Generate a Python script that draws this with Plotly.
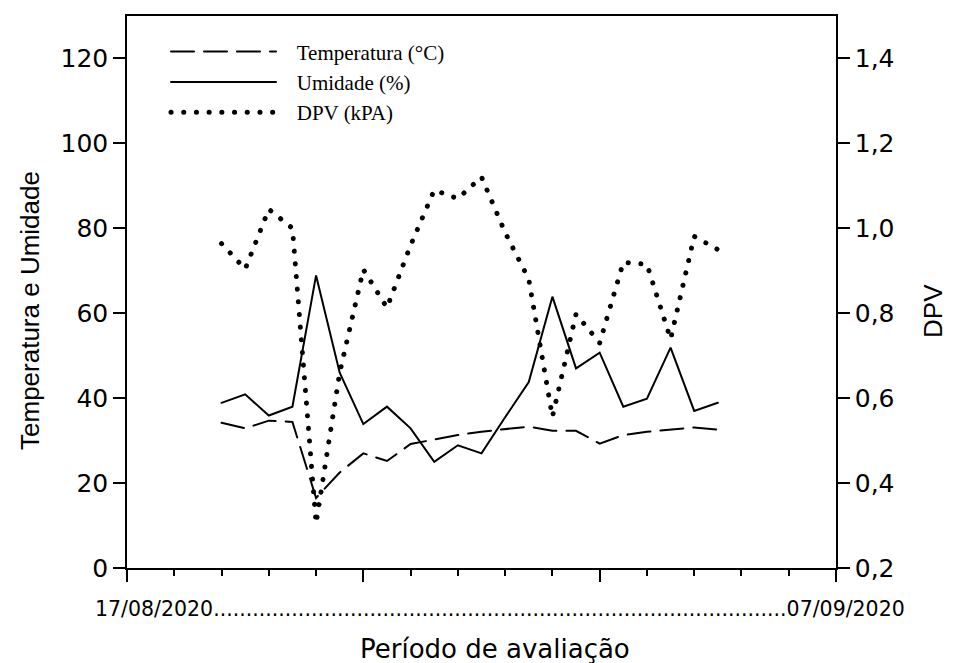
import plotly.graph_objects as go
import pandas as pd

dates = pd.date_range("2020-08-17", "2020-09-07", freq="D").strftime("%Y-%m-%d").tolist()
temperatura = [34.2, 32.9, 34.7, 34.4, 16.5, 22.5, 27.0, 25.2, 29.2, 30.2, 31.3,
               32.1, 32.7, 33.3, 32.3, 32.3, 29.3, 31.3, 32.1, 32.6, 33.1, 32.6]
umidade = [38.9, 40.9, 35.9, 38.0, 68.9, 46.0, 33.9, 38.0, 32.9, 25.0, 28.9,
           27.0, 35.5, 43.8, 63.9, 47.0, 50.7, 38.0, 39.9, 51.9, 37.0, 38.9]
dpv = [0.964, 0.904, 1.045, 1.000, 0.305, 0.660, 0.903, 0.813, 0.960, 1.090, 1.070,
       1.121, 0.990, 0.880, 0.556, 0.798, 0.730, 0.920, 0.915, 0.739, 0.981, 0.950]

left_ticks = [0, 20, 40, 60, 80, 100, 120]
right_ticks = [0.2, 0.4, 0.6, 0.8, 1.0, 1.2, 1.4]
date_label = "17/08/2020" + "." * 88 + "07/09/2020"
nb = "\u00a0" * 3

fig = go.Figure()
fig.add_trace(go.Scatter(x=dates, y=temperatura, mode="lines", name=nb + "Temperatura (°C)",
                         line=dict(color="black", width=2, dash="23px,10px")))
fig.add_trace(go.Scatter(x=dates, y=umidade, mode="lines", name=nb + "Umidade (%)",
                         line=dict(color="black", width=2)))
fig.add_trace(go.Scatter(x=dates, y=dpv, mode="lines", name=nb + "DPV (kPA)", yaxis="y2",
                         line=dict(color="black", width=5, dash="0.1px,12.6px")))

tick_font = dict(family="DejaVu Sans", size=25, color="black")
vt_font = dict(family="Liberation Sans, Arial", size=26, color="black")
fig.update_layout(
    width=960, height=663,
    margin=dict(l=127, r=124, t=16, b=95),
    paper_bgcolor="white", plot_bgcolor="white",
    separators=",.",
    showlegend=True,
    legend=dict(x=0.055, y=0.972, xanchor="left", yanchor="top",
                font=dict(family="Liberation Serif, Times New Roman", size=21, color="black"),
                bgcolor="rgba(0,0,0,0)", itemwidth=105, tracegroupgap=0),
    xaxis=dict(type="date", range=["2020-08-13", "2020-09-12"],
               showline=True, linecolor="black", linewidth=1.5, mirror=True,
               ticks="outside", ticklen=12, tickwidth=1.5, tickcolor="black",
               tick0="2020-08-13", dtick=10 * 86400000, showticklabels=False,
               showgrid=False, zeroline=False,
               minor=dict(ticks="outside", ticklen=6, tickwidth=1.5, tickcolor="black",
                          dtick=2 * 86400000, tick0="2020-08-13", showgrid=False)),
    yaxis=dict(range=[0, 130], tickvals=left_ticks, showline=True, linecolor="black", linewidth=1.5,
               ticks="outside", ticklen=12, tickwidth=1.5, tickcolor="black",
               tickfont=tick_font, showgrid=False, zeroline=False),
    yaxis2=dict(range=[0.2, 1.5], tickvals=right_ticks, tickformat=".1f", overlaying="y", side="right",
                showline=True, linecolor="black", linewidth=1.5,
                ticks="outside", ticklen=12, tickwidth=1.5, tickcolor="black",
                tickfont=tick_font, showgrid=False, zeroline=False),
)
fig.add_annotation(text=date_label, xref="paper", yref="paper", x=(93 - 127) / 709, y=-0.0743,
                   xanchor="left", yanchor="middle", showarrow=False,
                   font=dict(family="DejaVu Sans", size=20.5, color="black"))
fig.add_annotation(text="Período de avaliação", xref="paper", yref="paper", x=(495 - 127) / 709, y=-0.1467,
                   xanchor="center", yanchor="middle", showarrow=False,
                   font=dict(family="DejaVu Sans", size=26, color="black"))
fig.add_annotation(text="Temperatura e Umidade", xref="paper", yref="paper", x=(30 - 127) / 709, y=0.4656,
                   xanchor="center", yanchor="middle", showarrow=False, textangle=-90, font=vt_font)
fig.add_annotation(text="DPV", xref="paper", yref="paper", x=(933 - 127) / 709, y=0.4656,
                   xanchor="center", yanchor="middle", showarrow=False, textangle=-90, font=vt_font)

post = ("var s=document.createElement('style');"
        "s.textContent='.js-line{stroke-linecap:round;}';"
        "document.head.appendChild(s);")
fig.write_html("out.html", post_script=post)
